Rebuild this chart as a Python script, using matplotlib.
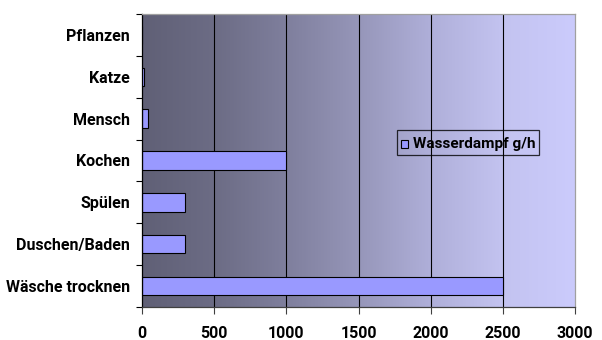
import numpy as np
import matplotlib
matplotlib.use('Agg')
import matplotlib.pyplot as plt
from matplotlib.colors import LinearSegmentedColormap
from matplotlib.container import BarContainer
from matplotlib.legend_handler import HandlerPatch, update_from_first_child
from matplotlib.patches import Rectangle

categories = ['Pflanzen', 'Katze', 'Mensch', 'Kochen', 'Spülen', 'Duschen/Baden', 'Wäsche trocknen']
values = [0, 12, 40, 1000, 300, 300, 2500]
series_name = 'Wasserdampf g/h'
xticks = [0, 500, 1000, 1500, 2000, 2500, 3000]

plt.rcParams['font.family'] = ['Roboto', 'DejaVu Sans']
plt.rcParams['font.weight'] = 'bold'
FS = 11.5

fig = plt.figure(figsize=(6.02, 3.40), dpi=100)
ax = fig.add_axes([142 / 602, 1 - 307 / 340, 433 / 602, 293 / 340])

# background gradient, dark left -> lavender right
stops = [(96, 96, 118), (108, 108, 133), (127, 127, 157), (150, 150, 185),
         (175, 175, 217), (195, 195, 240), (203, 203, 252)]
cmap = LinearSegmentedColormap.from_list(
    'bg', [(i / 6, tuple(c / 255 for c in col)) for i, col in enumerate(stops)])
grad = np.linspace(0, 1, 256).reshape(1, -1)
ax.imshow(grad, cmap=cmap, aspect='auto', extent=[0, 3000, 6.5, -0.5], zorder=0)

y = np.arange(len(categories))
ax.barh(y, values, height=0.44, color='#9999ff', edgecolor='black', linewidth=0.8,
        label=series_name, zorder=3)

ax.set_xlim(0, 3000)
ax.set_ylim(6.5, -0.5)
ax.set_xticks(xticks)
ax.set_xticklabels([str(t) for t in xticks], fontsize=FS)
ax.set_yticks(y)
ax.set_yticklabels(categories, fontsize=FS)
ax.set_yticks(np.arange(-0.5, 7, 1), minor=True)
ax.tick_params(axis='y', which='major', length=0, pad=8.5)
ax.tick_params(axis='y', which='minor', length=4, width=0.8, color='black')
ax.tick_params(axis='x', length=5, width=0.8, color='#404040', pad=9)

for xv in xticks[1:-1]:
    ax.axvline(xv, color='black', linewidth=0.8, zorder=2)

ax.spines['top'].set_color('#a0a0a0')
ax.spines['right'].set_color('#a0a0a0')
ax.spines['left'].set_color('black')
ax.spines['bottom'].set_color('#404040')
for s in ax.spines.values():
    s.set_linewidth(0.9)
    s.set_zorder(4)


def small_square(legend, orig_handle, xdescent, ydescent, width, height, fontsize):
    return Rectangle((-xdescent, -ydescent + (height - width) / 2 - 1), width, width)


leg = ax.legend(loc='upper left', bbox_to_anchor=(0.589, 0.604), borderaxespad=0,
                fancybox=False, facecolor='none', edgecolor='black', fontsize=11,
                handlelength=0.5, handleheight=1.35, handletextpad=0.3,
                borderpad=0.25,
                handler_map={BarContainer: HandlerPatch(patch_func=small_square,
                                                        update_func=update_from_first_child)})
leg.get_frame().set_linewidth(0.9)
leg.get_frame().set_edgecolor('black')

fig.savefig('out.png', dpi=100)
